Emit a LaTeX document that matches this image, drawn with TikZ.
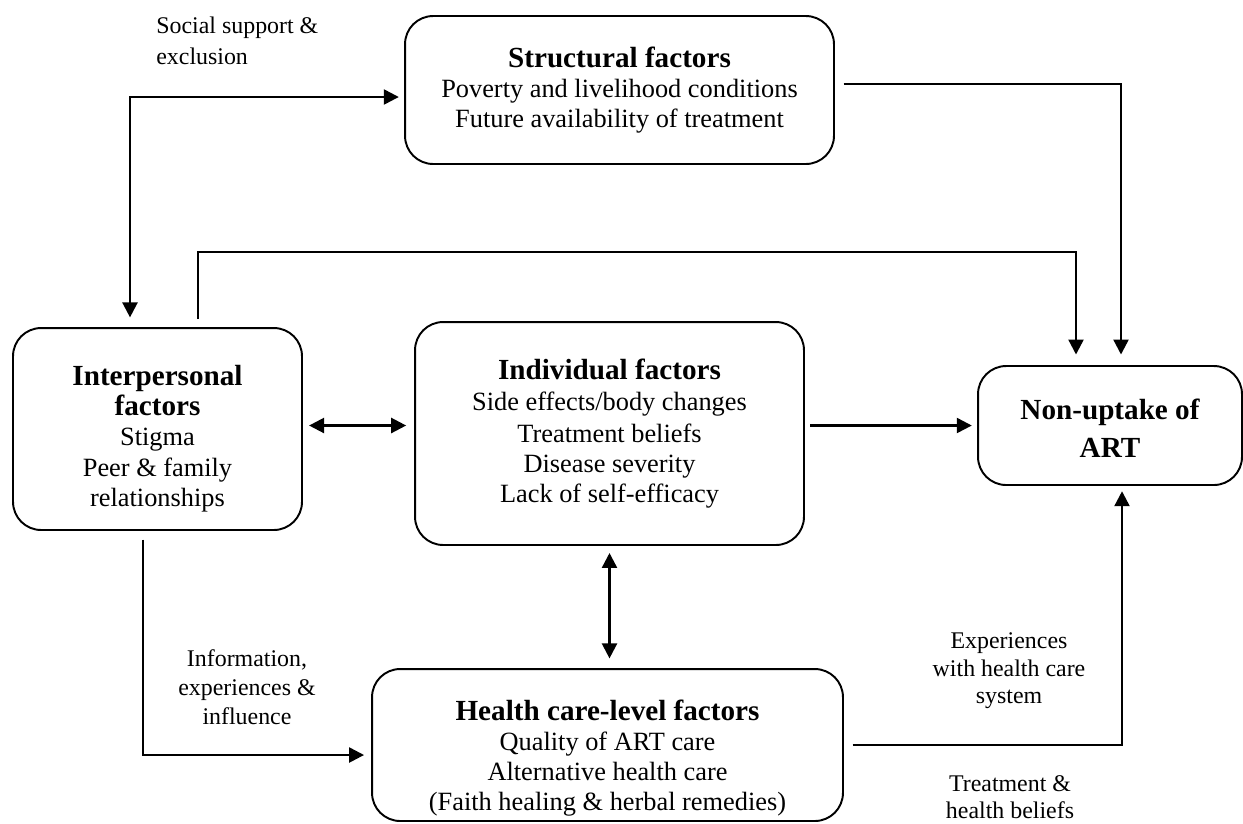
\documentclass[tikz,border=0pt]{standalone}
\usepackage{fontspec}
\setmainfont{Liberation Serif}
\usetikzlibrary{arrows.meta}

\newcommand{\boxtitle}[1]{{\fontsize{16.6}{17.1}\selectfont\bfseries #1}}
\newcommand{\topgap}[1]{\rule{0pt}{#1}}

\tikzset{
  box/.style={draw, line width=1.1pt, rounded corners=16pt, align=center, inner sep=0pt,
    font=\fontsize{15}{17.1}\selectfont},
  arr/.style={-{Triangle[length=8.5pt,width=8.5pt]}, line width=1.35pt},
  dbl/.style={{Triangle[length=8.5pt,width=8.5pt]}-{Triangle[length=8.5pt,width=8.5pt]}, line width=1.35pt},
  lbl/.style={align=center, inner sep=0pt, font=\fontsize{13.6}{15.6}\selectfont},
}

\begin{document}
\begin{tikzpicture}[x=0.02cm, y=-0.02cm]
    \useasboundingbox (0,0) rectangle (1243,823);

    \node[box, minimum width=8.58cm, minimum height=2.96cm] (struct) at (619.5,90)
        {\boxtitle{Structural factors}\\Poverty and livelihood conditions\\Future availability of treatment};
    \node[box, minimum width=5.78cm, minimum height=4.04cm] (inter) at (157.5,429)
        {\topgap{22.5pt}\boxtitle{Interpersonal}\\\boxtitle{factors}\\Stigma\\Peer \& family\\relationships};
    \node[box, minimum width=7.78cm, minimum height=4.46cm] (indiv) at (609.5,433.5)
        {\boxtitle{Individual factors}\\[1pt]Side effects/body changes\\[1pt]Treatment beliefs\\Disease severity\\Lack of self-efficacy};
    \node[box, minimum width=5.28cm, minimum height=2.38cm] (nonup) at (1110,425.5)
        {\topgap{14.5pt}\boxtitle{Non-uptake of}\\[4.5pt]\boxtitle{ART}};
    \node[box, minimum width=9.42cm, minimum height=3.04cm] (hcare) at (607.5,745)
        {\topgap{27pt}\boxtitle{Health care-level factors}\\Quality of ART care\\Alternative health care\\(Faith healing \& herbal remedies)};

    % bends of the connectors
    \coordinate (c1) at (130,97);
    \coordinate (c2) at (198,252);
    \coordinate (c3) at (1076,252);
    \coordinate (c4) at (1121,84);
    \coordinate (c5) at (143,755);
    \coordinate (c6) at (1122,745);

    \draw[dbl, shorten <=5.5pt, shorten >=3pt] (inter.north -| c1) -- (c1) -- (struct.west |- c1);
    \draw[arr, shorten <=4.5pt, shorten >=6pt] (inter.north -| c2) -- (c2) -- (c3) -- (nonup.north -| c3);
    \draw[arr, shorten <=5pt, shorten >=6pt] (struct.east |- c4) -- (c4) -- (nonup.north -| c4);
    \draw[dbl, shorten <=3.5pt, shorten >=4.5pt] (inter.east |- nonup.west) -- (indiv.west |- nonup.west);
    \draw[arr, shorten <=3pt, shorten >=3pt] (indiv.east |- nonup.west) -- (nonup.west);
    \draw[dbl, shorten <=4pt, shorten >=5.5pt] (indiv.south) -- (indiv.south |- hcare.north);
    \draw[arr, shorten <=5pt, shorten >=4pt] (inter.south -| c5) -- (c5) -- (hcare.west |- c5);
    \draw[arr, shorten <=5pt, shorten >=3pt] (hcare.east |- c6) -- (c6) -- (nonup.south -| c6);

    \node[lbl, anchor=north west, align=left, font=\fontsize{13.6}{17.6}\selectfont] (lsoc) at (156,17)
        {Social support \&\\exclusion};
    \node[lbl, font=\fontsize{13.6}{16.4}\selectfont] (linfo) at (247,687) {Information,\\experiences \&\\influence};
    \node[lbl] (lexp) at (1009,671) {Experiences\\with health care\\system};
    \node[lbl] (ltreat) at (1010,797) {Treatment \&\\health beliefs};
\end{tikzpicture}
\end{document}
